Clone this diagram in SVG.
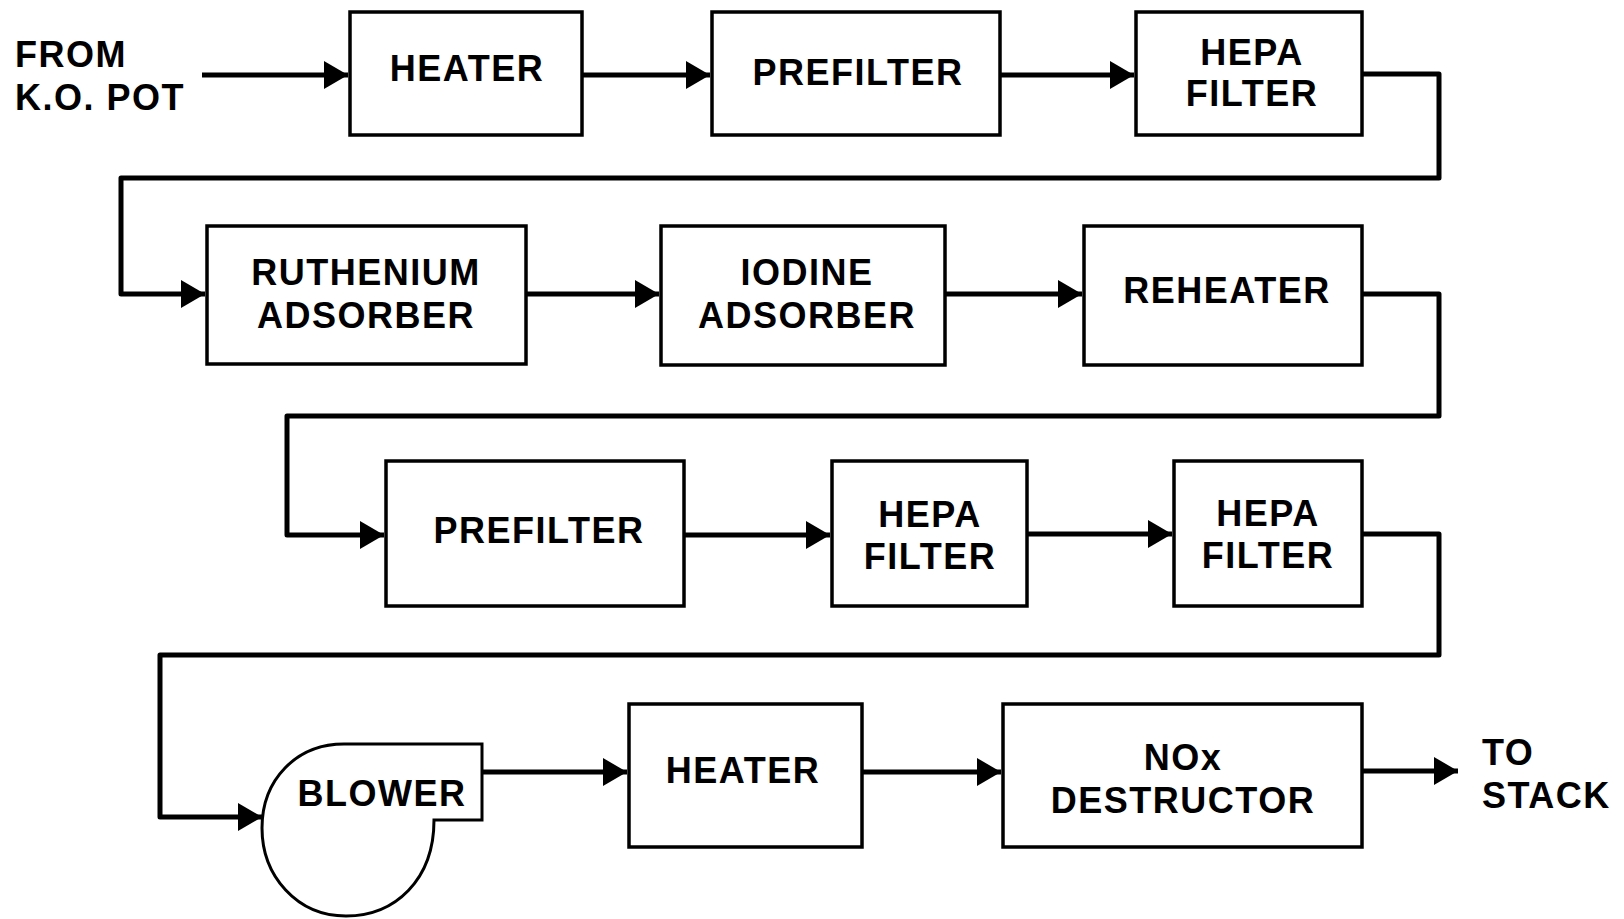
<svg xmlns="http://www.w3.org/2000/svg" width="1624" height="919" viewBox="0 0 1624 919">
<style>
  .box { fill: #fff; stroke: #000; stroke-width: 3.5; }
  .lbl { font-family: "Liberation Sans", Arial, sans-serif; font-weight: bold; font-size: 36px; letter-spacing: 1.5px; fill: #000; text-anchor: middle; }
  .free { font-family: "Liberation Sans", Arial, sans-serif; font-weight: bold; font-size: 36px; letter-spacing: 1.5px; fill: #000; }
  .conn { fill: none; stroke: #000; stroke-width: 5; stroke-linejoin: round; stroke-linecap: butt; }
</style>
<defs>
  <marker id="ah" markerUnits="userSpaceOnUse" markerWidth="26" markerHeight="30" refX="24" refY="14" orient="auto">
    <path d="M0,0 L24,14 L0,28 Z" fill="#000"/>
  </marker>
</defs>
<rect width="1624" height="919" fill="#fff"/>

<g id="connectors">
  <path class="conn" d="M202,75 L348,75" marker-end="url(#ah)"/>
  <path class="conn" d="M582,75 L710,75" marker-end="url(#ah)"/>
  <path class="conn" d="M1000,75 L1134,75" marker-end="url(#ah)"/>
  <path class="conn" d="M1362,74 L1439,74 L1439,178 L121,178 L121,294 L205,294" marker-end="url(#ah)"/>
  <path class="conn" d="M526,294 L659,294" marker-end="url(#ah)"/>
  <path class="conn" d="M945,294 L1082,294" marker-end="url(#ah)"/>
  <path class="conn" d="M1362,294 L1439,294 L1439,416 L287,416 L287,535 L384,535" marker-end="url(#ah)"/>
  <path class="conn" d="M684,535 L830,535" marker-end="url(#ah)"/>
  <path class="conn" d="M1027,534 L1172,534" marker-end="url(#ah)"/>
  <path class="conn" d="M1362,534 L1439,534 L1439,655 L160,655 L160,817 L262,817" marker-end="url(#ah)"/>
  <path class="conn" d="M482,772 L627,772" marker-end="url(#ah)"/>
  <path class="conn" d="M862,772 L1001,772" marker-end="url(#ah)"/>
  <path class="conn" d="M1362,771 L1458,771" marker-end="url(#ah)"/>
</g>

<g id="from-ko-pot">
  <text class="free" x="15" y="67">FROM</text>
  <text class="free" x="15" y="110">K.O. POT</text>
</g>

<g id="heater1">
  <rect class="box" x="350" y="12" width="232" height="123"/>
  <text class="lbl" x="467" y="81">HEATER</text>
</g>
<g id="prefilter1">
  <rect class="box" x="712" y="12" width="288" height="123"/>
  <text class="lbl" x="858" y="85">PREFILTER</text>
</g>
<g id="hepa1">
  <rect class="box" x="1136" y="12" width="226" height="123"/>
  <text class="lbl" x="1252" y="65">HEPA</text>
  <text class="lbl" x="1252" y="106">FILTER</text>
</g>

<g id="ruthenium">
  <rect class="box" x="207" y="226" width="319" height="138"/>
  <text class="lbl" x="366" y="285">RUTHENIUM</text>
  <text class="lbl" x="366" y="328">ADSORBER</text>
</g>
<g id="iodine">
  <rect class="box" x="661" y="226" width="284" height="139"/>
  <text class="lbl" x="807" y="285">IODINE</text>
  <text class="lbl" x="807" y="328">ADSORBER</text>
</g>
<g id="reheater">
  <rect class="box" x="1084" y="226" width="278" height="139"/>
  <text class="lbl" x="1227" y="303">REHEATER</text>
</g>

<g id="prefilter2">
  <rect class="box" x="386" y="461" width="298" height="145"/>
  <text class="lbl" x="539" y="543">PREFILTER</text>
</g>
<g id="hepa2">
  <rect class="box" x="832" y="461" width="195" height="145"/>
  <text class="lbl" x="930" y="527">HEPA</text>
  <text class="lbl" x="930" y="569">FILTER</text>
</g>
<g id="hepa3">
  <rect class="box" x="1174" y="461" width="188" height="145"/>
  <text class="lbl" x="1268" y="526">HEPA</text>
  <text class="lbl" x="1268" y="568">FILTER</text>
</g>

<g id="blower">
  <path d="M434,820 C434,880 395,916 346,916 C297,916 262,876 262,828 C262,780 296,744 344,744 L482,744 L482,820 Z" fill="#fff" stroke="#000" stroke-width="3"/>
  <text class="lbl" x="382" y="806">BLOWER</text>
</g>
<g id="heater2">
  <rect class="box" x="629" y="704" width="233" height="143"/>
  <text class="lbl" x="743" y="783">HEATER</text>
</g>
<g id="nox">
  <rect class="box" x="1003" y="704" width="359" height="143"/>
  <text class="lbl" x="1183" y="770">NOx</text>
  <text class="lbl" x="1183" y="813">DESTRUCTOR</text>
</g>

<g id="to-stack">
  <text class="free" x="1482" y="765">TO</text>
  <text class="free" x="1482" y="808">STACK</text>
</g>
</svg>
